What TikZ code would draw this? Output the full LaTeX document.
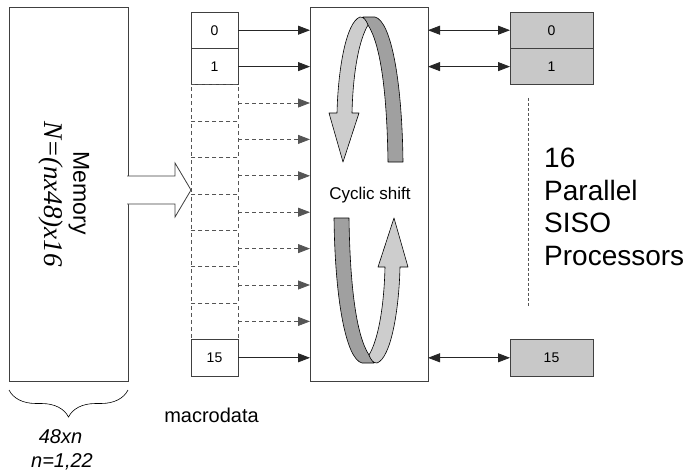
\documentclass[tikz,border=0pt]{standalone}
\usepackage{fontspec}
\setmainfont{Liberation Sans}
\newfontfamily\timesfont{Liberation Serif}
\usetikzlibrary{arrows.meta,positioning,calc,decorations.pathreplacing}
\definecolor{edgegray}{HTML}{404040}
\definecolor{dashgray}{HTML}{555555}
\definecolor{lightband}{HTML}{CDCDCD}
\definecolor{darkband}{HTML}{A0A0A0}
\definecolor{procfill}{HTML}{C8C8C8}
\tikzset{
  cell/.style={draw=edgegray, line width=0.8pt, outer sep=0pt, inner sep=0pt, minimum width=47pt, minimum height=36.4pt, font=\fontsize{14}{16}\selectfont},
  dashcell/.style={cell, draw=dashgray, dash pattern=on 4pt off 3pt},
  proc/.style={cell, fill=procfill, minimum width=83pt},
  bigbox/.style={draw=edgegray, line width=0.8pt, outer sep=0pt, inner sep=0pt},
  feed/.style={-{Triangle[length=12pt,width=9pt]}, line width=0.8pt, draw=black!85},
  link/.style={{Triangle[length=12pt,width=9pt]}-{Triangle[length=12pt,width=9pt]}, line width=0.8pt, draw=black!85},
  band/.style={draw=black, line width=0.6pt, line join=round}
}

\begin{document}
\begin{tikzpicture}[x=1pt, y=-1pt]
  \useasboundingbox (0,0) rectangle (685,475);
  % memory block
  \node[bigbox, minimum width=119pt, minimum height=374pt] (mem) at (68.5,194) {};
  \node[rotate=-90, font=\fontsize{23}{26}\selectfont] (memtitle) at (79,193) {Memory};
  \node[rotate=-90, font=\timesfont\itshape\fontsize{27}{30}\selectfont] (memsize) at (51,194) {N=(nx48)x16};
  \coordinate (braceL) at ($(mem.south west)+(0,9)$);
  \coordinate (braceR) at ($(mem.south east)+(0,9)$);
  \draw[decorate, decoration={brace, mirror, amplitude=27pt}, line width=0.6pt] (braceL) -- (braceR);
  \node[anchor=base, font=\itshape\fontsize{20}{24}\selectfont] (width) at (60.5,443) {48xn};
  \node[anchor=base, font=\itshape\fontsize{20}{24}\selectfont] (range) at (62,467) {n=1,22};

  % macrodata cells
  \node[cell] (c0) at (214.5,30.2) {0};
  \node[cell, below=0pt of c0] (c1) {1};
  \foreach \k in {1,...,7}
    \node[dashcell] (d\k) at (214.5,{30.2+36.4*(\k+1)}) {};
  \node[cell, below=0pt of d7] (c15) {15};
  \node[anchor=base, font=\fontsize{20}{24}\selectfont] (macro) at (211.5,422) {macrodata};

  % hollow arrow memory -> cells
  \coordinate (tip) at ($(c0.west |- mem.east)+(0,-4)$);
  \draw[line width=0.8pt, draw=edgegray, fill=white] ($(tip)+(-64,-14)$) -- ($(tip)+(-16,-14)$) -- ($(tip)+(-16,-27)$) -- (tip) -- ($(tip)+(-16,27)$) -- ($(tip)+(-16,14)$) -- ($(tip)+(-64,14)$);

  % cyclic shift block
  \node[bigbox, minimum width=118pt, minimum height=374pt] (shift) at (369,194) {};
  \node[font=\fontsize{17}{20}\selectfont] (shiftlabel) at (370,195) {Cyclic shift};
  \foreach \n in {c0,c1,c15}
    \draw[feed] (\n.east) -- (\n.east -| shift.west);
  \foreach \k in {1,...,7}
    \draw[feed, draw=dashgray, dash pattern=on 4pt off 3pt] (d\k.east) -- (d\k.east -| shift.west);

  % rotating ribbons
  \foreach \ang in {0,180} {
    \begin{scope}[rotate around={\ang:(368.5,190)}]
      \draw[band, fill=darkband] (363,17) -- (375,17) .. controls (391,21) and (402,80) .. (403,162) -- (388,162) .. controls (387,95) and (381,45) .. (368,25) -- cycle;
      \draw[band, fill=lightband] (368,25) .. controls (366,20) and (364,17) .. (360,17) .. controls (346,22) and (338,70) .. (337,113) -- (329,113) -- (343,162) -- (359,113) -- (352,113) .. controls (353,72) and (359,40) .. (368,25) -- cycle;
    \end{scope}
  }

  % SISO processors
  \node[proc] (p0) at (551.5,30.2) {0};
  \node[proc, below=0pt of p0] (p1) {1};
  \node[proc] (p15) at (551.5,357.8) {15};
  \foreach \n in {p0,p1,p15}
    \draw[link] (\n.west -| shift.east) -- (\n.west);
  \draw[draw=dashgray, line width=0.8pt, dash pattern=on 3pt off 2pt] ($(p1.south west)+(18,13)$) -- ($(p15.north west)+(18,-32)$);
  \node[anchor=west, align=left, inner sep=0pt, font=\fontsize{28}{32.5}\selectfont] (proclabel) at (544,207) {16\\Parallel\\SISO\\Processors};
\end{tikzpicture}
\end{document}
